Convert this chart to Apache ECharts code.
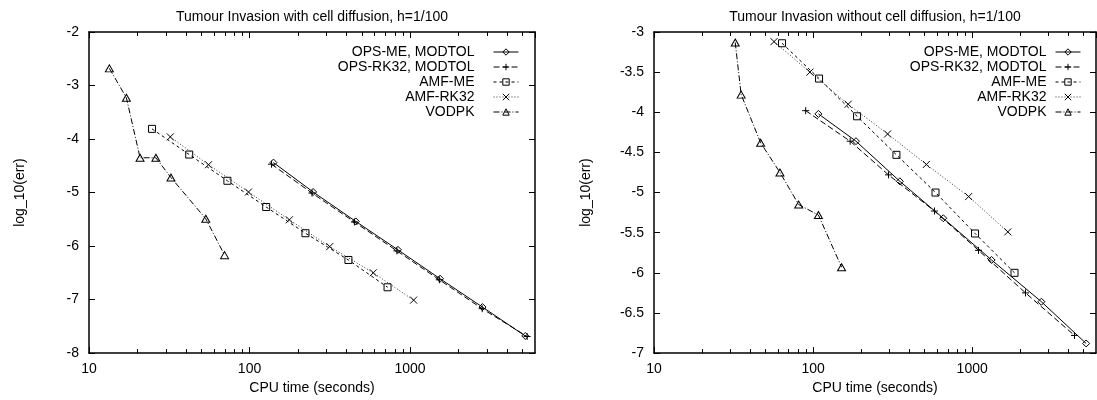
<!DOCTYPE html>
<html>
<head>
<meta charset="utf-8">
<script src="https://cdn.jsdelivr.net/npm/echarts@6/dist/echarts.min.js"></script>
<style>html,body{margin:0;padding:0;background:#fff}#c{width:1097px;height:400px}</style>
</head>
<body>
<div id="c"></div>
<script>
// ---- Data: CPU time (s) and log10(err) ----
// Left: with cell diffusion
var opsMeL_t = [141, 249, 459, 840, 1537, 2825, 5220];
var opsMeL_e = [-4.44, -4.99, -5.54, -6.07, -6.61, -7.14, -7.68];
var opsRkL_t = [137, 245, 450, 828, 1521, 2812, 5360];
var opsRkL_e = [-4.47, -5.01, -5.55, -6.09, -6.63, -7.17, -7.69];
var amfMeL_t = [24.7, 42.1, 72.8, 127, 223, 413, 724];
var amfMeL_e = [-3.81, -4.29, -4.78, -5.27, -5.76, -6.26, -6.77];
var amfRkL_t = [32.1, 55.5, 98.5, 177, 316, 590, 1052];
var amfRkL_e = [-3.96, -4.48, -4.99, -5.51, -6.01, -6.50, -7.01];
var vodpkL_t = [13.4, 17.1, 20.8, 26.1, 32.4, 53.4, 69.9];
var vodpkL_e = [-2.68, -3.23, -4.35, -4.35, -4.72, -5.49, -6.17];
// Right: without cell diffusion
var opsMeR_t = [108, 186, 351, 658, 1324, 2722, 5200];
var opsMeR_e = [-4.02, -4.36, -4.86, -5.32, -5.84, -6.36, -6.88];
var opsRkR_t = [89.8, 171, 298, 579, 1096, 2163, 4395];
var opsRkR_e = [-3.98, -4.36, -4.78, -5.23, -5.72, -6.25, -6.78];
var amfMeR_t = [63.8, 109, 189, 334, 588, 1042, 1845];
var amfMeR_e = [-3.14, -3.58, -4.05, -4.53, -5.00, -5.51, -6.00];
var amfRkR_t = [56.8, 95.5, 166, 294, 515, 950, 1675];
var amfRkR_e = [-3.12, -3.50, -3.90, -4.27, -4.65, -5.05, -5.49];
var vodpkR_t = [32.4, 35.3, 46.8, 61.9, 81.2, 108, 151];
var vodpkR_e = [-3.13, -3.78, -4.38, -4.75, -5.15, -5.28, -5.93];

var seriesNames = ['OPS-ME, MODTOL', 'OPS-RK32, MODTOL', 'AMF-ME', 'AMF-RK32', 'VODPK'];
var titles = ['Tumour Invasion with cell diffusion, h=1/100', 'Tumour Invasion without cell diffusion, h=1/100'];
var xName = 'CPU time (seconds)';
var yName = 'log_10(err)';
var xMinorTicks = [20, 30, 40, 50, 60, 70, 80, 90, 200, 300, 400, 500, 600, 700, 800, 900, 2000, 3000, 4000, 5000];
var xMin = 10, xMax = 6000;
var yRanges = [[-8, -2, 1], [-7, -3, 0.5]];

var FONT = 'Liberation Sans';
var FS = 14;

function zip(a, b) { return a.map(function (v, i) { return [v, b[i]]; }); }

var styles = [
  { symbol: 'path://M5,0L10,5L5,10L0,5Z', size: 7, type: 'solid', color: '#000' },
  { symbol: 'path://M5,0L5,10M0,5L10,5', size: 7, type: [6, 3], color: '#000' },
  { symbol: 'path://M0,0L10,0L10,10L0,10Z', size: 7, type: [3, 3], color: '#000' },
  { symbol: 'path://M0,0L10,10M10,0L0,10', size: 7, type: [1, 2], color: '#333' },
  { symbol: 'path://M5,0L10,8.66L0,8.66Z', size: [8, 7], type: [6, 2, 1, 2], color: '#000' }
];

var sets = [
  [[opsMeL_t, opsMeL_e], [opsRkL_t, opsRkL_e], [amfMeL_t, amfMeL_e], [amfRkL_t, amfRkL_e], [vodpkL_t, vodpkL_e]],
  [[opsMeR_t, opsMeR_e], [opsRkR_t, opsRkR_e], [amfMeR_t, amfMeR_e], [amfRkR_t, amfRkR_e], [vodpkR_t, vodpkR_e]]
];

var grids = [
  { left: 89, top: 32, width: 446, height: 330 },
  { left: 654, top: 32, width: 442, height: 330 }
];
var yNameGaps = [62, 61];

var xAxes = [], yAxes = [], series = [];
var lineC = '#000';
var FRAME_W = 1.5;

for (var g = 0; g < 2; g++) {
  ['bottom', 'top'].forEach(function (pos) {
    xAxes.push({
      type: 'log', logBase: 10, gridIndex: g, position: pos, min: xMin, max: xMax,
      name: pos === 'bottom' ? xName : titles[g],
      nameLocation: 'middle', nameGap: pos === 'bottom' ? 20 : 8,
      nameTextStyle: { fontFamily: FONT, fontSize: FS, color: '#000' },
      axisLine: { show: true, onZero: false, lineStyle: { color: lineC, width: FRAME_W } },
      axisTick: { show: true, inside: true, length: 6, lineStyle: { color: lineC, width: 1 } },
      axisLabel: {
        show: pos === 'bottom', margin: 9, color: '#000', fontFamily: FONT, fontSize: FS,
        showMaxLabel: false, showMinLabel: true,
        formatter: function (v) { return String(Math.round(v)); }
      },
      splitLine: { show: false }, minorTick: { show: false }
    });
  });
  ['left', 'right'].forEach(function (pos) {
    yAxes.push({
      type: 'value', gridIndex: g, position: pos,
      min: yRanges[g][0], max: yRanges[g][1], interval: yRanges[g][2],
      name: pos === 'left' ? yName : '', nameLocation: 'middle', nameRotate: 90, nameGap: yNameGaps[g],
      nameTextStyle: { fontFamily: FONT, fontSize: FS, color: '#000' },
      axisLine: { show: true, onZero: false, lineStyle: { color: lineC, width: FRAME_W } },
      axisTick: { show: true, inside: true, length: 6, lineStyle: { color: lineC, width: 1 } },
      axisLabel: { show: pos === 'left', margin: 10, color: '#000', fontFamily: FONT, fontSize: FS },
      splitLine: { show: false }
    });
  });
  for (var s = 0; s < 5; s++) {
    var st = styles[s];
    series.push({
      name: seriesNames[s], type: 'line', xAxisIndex: g * 2, yAxisIndex: g * 2,
      data: zip(sets[g][s][0], sets[g][s][1]),
      symbol: st.symbol, symbolSize: st.size, showAllSymbol: true,
      lineStyle: { color: st.color, width: 1, type: st.type },
      itemStyle: { color: 'transparent', borderColor: '#000', borderWidth: 1 },
      emphasis: { disabled: true }, z: 10 - s
    });
  }
  // minor log ticks (bottom and top) positioned by the axis scale
  (function (gi) {
    var yLo = yRanges[gi][0], yHi = yRanges[gi][1];
    series.push({
      type: 'custom', xAxisIndex: gi * 2, yAxisIndex: gi * 2, silent: true, z: 20, clip: false,
      encode: { x: 0, y: 1 },
      data: xMinorTicks.map(function (v) { return [v, yLo, yHi]; }),
      renderItem: function (params, api) {
        var b = api.coord([api.value(0), api.value(1)]);
        var t = api.coord([api.value(0), api.value(2)]);
        var xb = Math.round(b[0]) + 0.5;
        return {
          type: 'group', children: [
            { type: 'line', shape: { x1: xb, y1: b[1], x2: xb, y2: b[1] - 4 }, style: { stroke: '#000', lineWidth: 1 } },
            { type: 'line', shape: { x1: xb, y1: t[1], x2: xb, y2: t[1] + 4 }, style: { stroke: '#000', lineWidth: 1 } }
          ]
        };
      }
    });
  })(g);
}

var legendCommon = {
  orient: 'vertical', align: 'right', itemWidth: 25, itemHeight: 8, itemGap: 0,
  padding: 0, selectedMode: false, data: seriesNames,
  itemStyle: { color: 'transparent', borderColor: '#000', borderWidth: 1 },
  lineStyle: { width: 1 },
  textStyle: { fontFamily: FONT, fontSize: FS, color: '#000', lineHeight: 15 }
};
var leg0 = JSON.parse(JSON.stringify(legendCommon));
leg0.right = 1097 - 519; leg0.top = 44.5; leg0.textStyle.padding = [0, 14, 0, 0];
var leg1 = JSON.parse(JSON.stringify(legendCommon));
leg1.right = 1097 - 1081; leg1.top = 44.5; leg1.textStyle.padding = [0, 4, 0, 0];

var chart = echarts.init(document.getElementById('c'), null, { renderer: 'canvas' });
chart.setOption({
  animation: false,
  backgroundColor: '#fff',
  grid: grids,
  xAxis: xAxes,
  yAxis: yAxes,
  legend: [leg0, leg1],
  series: series
});
</script>
</body>
</html>
